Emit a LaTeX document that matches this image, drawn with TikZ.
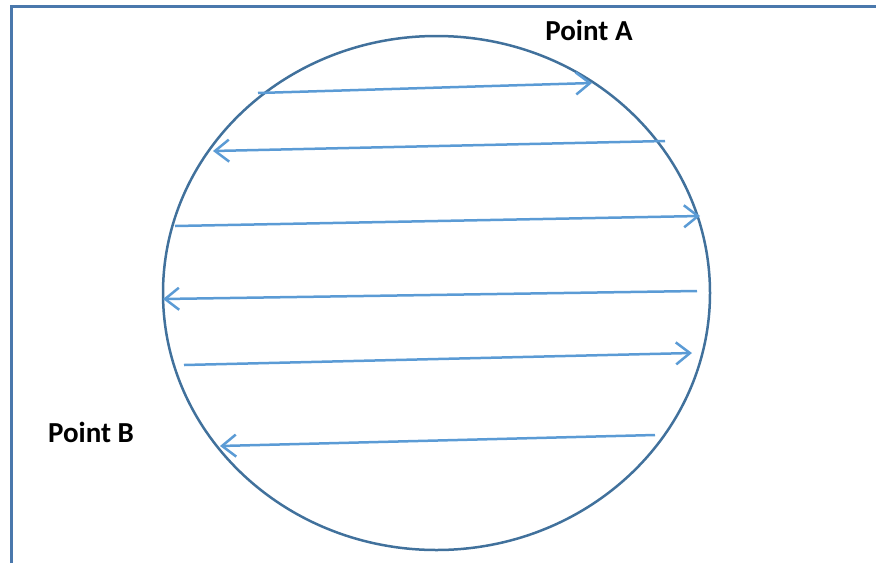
\documentclass[tikz,border=0pt]{standalone}
\usepackage{fontspec}
\setmainfont{Carlito}
\usetikzlibrary{arrows.meta,shapes.geometric}
\definecolor{frameblue}{HTML}{4A78AC}
\definecolor{circblue}{HTML}{41719C}
\definecolor{arrblue}{HTML}{5B9BD5}
\tikzset{
  flow/.style={draw=arrblue, line width=2.5pt, -{Straight Barb[length=14pt,width=22pt,line width=2.5pt]}},
  lbl/.style={font=\fontsize{29}{34}\selectfont\bfseries, text=black, inner sep=0pt}
}
\begin{document}
\begin{tikzpicture}[x=1pt,y=-1pt]
\useasboundingbox (0,0) rectangle (876,563);
\draw[frameblue, line width=3pt] (11,563) -- (11,6) -- (876,6);
\node[draw=circblue, line width=2.5pt, ellipse, minimum width=547pt, minimum height=514pt, inner sep=0pt] (circ) at (436.5,293) {};
\node[lbl] (ptA) at (589,30) {Point A};
\node[lbl] (ptB) at (91,432) {Point B};
\coordinate (a1s) at (258,93);  \coordinate (a1e) at (592,83);
\coordinate (a2s) at (665,141); \coordinate (a2e) at (213,151);
\coordinate (a3s) at (175,226); \coordinate (a3e) at (700,216);
\coordinate (a4s) at (697,291); \coordinate (a4e) at (163,299);
\coordinate (a5s) at (184,365); \coordinate (a5e) at (692,353);
\coordinate (a6s) at (655,435); \coordinate (a6e) at (220,446);
\draw[flow] (a1s) -- (a1e);
\draw[flow] (a2s) -- (a2e);
\draw[flow] (a3s) -- (a3e);
\draw[flow] (a4s) -- (a4e);
\draw[flow] (a5s) -- (a5e);
\draw[flow] (a6s) -- (a6e);
\end{tikzpicture}
\end{document}
